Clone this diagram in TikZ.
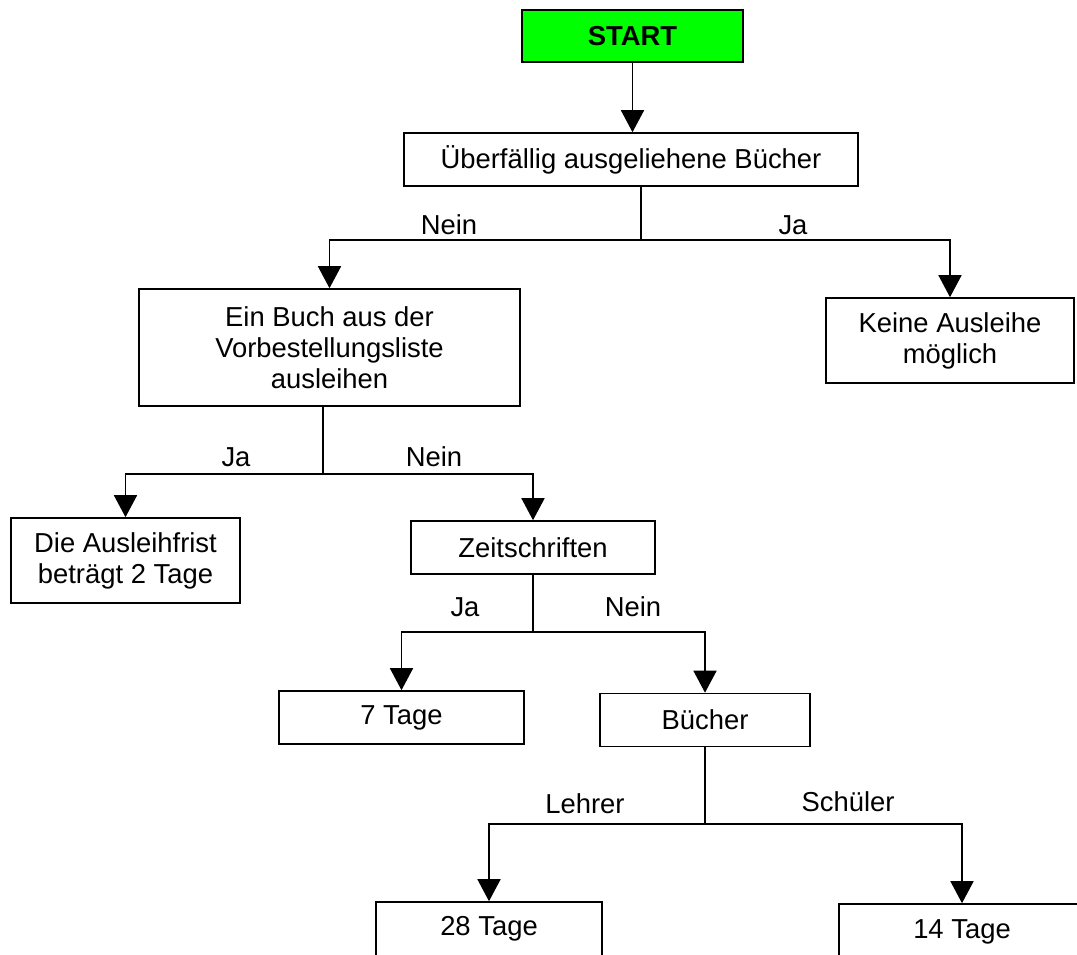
\documentclass[tikz,border=0pt]{standalone}
\usepackage{fontspec}
\setmainfont{Liberation Sans}
\usetikzlibrary{arrows.meta}
\definecolor{startgreen}{RGB}{0,255,0}
\tikzset{
  box/.style={draw=black, line width=1.6pt, fill=white, align=center,
    inner sep=0pt, font=\fontsize{27.4}{31}\selectfont},
  lbl/.style={inner sep=0pt, font=\fontsize{27.4}{31}\selectfont},
  link/.style={line width=1.6pt},
  arr/.style={line width=1.6pt, -{Triangle[width=23pt,length=22pt]}},
}
\begin{document}
\begin{tikzpicture}[x=1pt,y=-1pt]
\useasboundingbox (0,0) rectangle (1077,954);
\clip (0,0) rectangle (1077,954);

% boxes
\node[box, fill=startgreen, minimum width=221pt, minimum height=52pt,
  font=\fontsize{27.4}{31}\selectfont\bfseries] (start) at (632.5,36) {START};
\node[box, minimum width=454pt, minimum height=53pt] (ueber) at (631,159.5)
  {Überfällig ausgeliehene Bücher};
\node[box, minimum width=381pt, minimum height=117pt] (buch) at (329.5,347.5)
  {Ein Buch aus der\\Vorbestellungsliste\\ausleihen};
\node[box, minimum width=248pt, minimum height=85pt] (keine) at (950,340.5)
  {Keine Ausleihe\\möglich};
\node[box, minimum width=229pt, minimum height=85pt] (frist) at (125.5,560.5)
  {Die Ausleihfrist\\beträgt 2 Tage};
\node[box, minimum width=244pt, minimum height=53pt] (zeit) at (533,547.5)
  {Zeitschriften};
\node[box, minimum width=245pt, minimum height=53pt] (tage7) at (401.5,717.5)
  {7 Tage};
\node[box, minimum width=210pt, minimum height=53pt] (buecher) at (705,720)
  {Bücher};
\node[box, minimum width=226pt, minimum height=54pt] (tage28) at (489,929)
  {28 Tage};
\node[box, minimum width=246pt, minimum height=56pt] (tage14) at (962,932)
  {14 Tage};

% branch points
\coordinate (j1) at (641,240);
\coordinate (j2) at (323,474);
\coordinate (j3) at (533,632);
\coordinate (j4) at (705,824);

% connectors
\draw[arr] (start) -- (start |- ueber.north);
\draw[link] (j1 |- ueber.south) -- (j1);
\draw[arr] (j1) -| (buch.north);
\draw[arr] (j1) -| (keine.north);

\draw[link] (j2 |- buch.south) -- (j2);
\draw[arr] (j2) -| (frist.north);
\draw[arr] (j2) -| (zeit.north);

\draw[link] (j3 |- zeit.south) -- (j3);
\draw[arr] (j3) -| (tage7.north);
\draw[arr] (j3) -| (buecher.north);

\draw[link] (j4 |- buecher.south) -- (j4);
\draw[arr] (j4) -| (tage28.north);
\draw[arr] (j4) -| (tage14.north);

% branch labels
\node[lbl] (l1n) at (449,225) {Nein};
\node[lbl] (l1j) at (793,225) {Ja};
\node[lbl] (l2j) at (236,457) {Ja};
\node[lbl] (l2n) at (434,457) {Nein};
\node[lbl] (l3j) at (465,607) {Ja};
\node[lbl] (l3n) at (633,607) {Nein};
\node[lbl] (l4l) at (585,804) {Lehrer};
\node[lbl] (l4s) at (848,802) {Schüler};
\end{tikzpicture}
\end{document}
